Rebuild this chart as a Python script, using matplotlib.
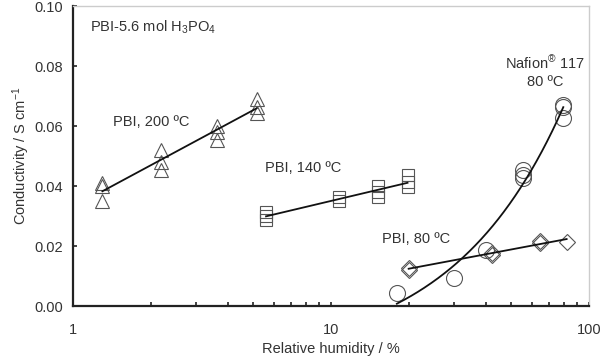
import numpy as np
import matplotlib
matplotlib.use("Agg")
import matplotlib.pyplot as plt
from matplotlib.ticker import LogLocator, FixedLocator, NullFormatter, FuncFormatter

plt.rcParams['font.family'] = ['Liberation Sans', 'DejaVu Sans']
plt.rcParams['mathtext.fontset'] = 'custom'
plt.rcParams['mathtext.rm'] = 'Liberation Sans'
plt.rcParams['mathtext.it'] = 'Liberation Sans:italic'
plt.rcParams['mathtext.bf'] = 'Liberation Sans:bold'

# ---- data ----
rh_200 = [1.3, 1.3, 1.3, 2.2, 2.2, 2.2, 3.6, 3.6, 3.6, 5.15, 5.15, 5.15]
cond_200 = [0.041, 0.040, 0.035, 0.052, 0.048, 0.0455, 0.060, 0.058, 0.0555, 0.069, 0.0665, 0.0645]

rh_140 = [5.6, 5.6, 5.6, 10.7, 10.7, 15.2, 15.2, 15.2, 19.8, 19.8, 19.8]
cond_140 = [0.0314, 0.030, 0.0287, 0.0362, 0.035, 0.040, 0.038, 0.0362, 0.0436, 0.0415, 0.0397]

rh_80 = [20, 20, 42, 42, 64.6, 64.6, 81.9]
cond_80 = [0.0128, 0.0120, 0.0178, 0.0170, 0.0218, 0.0210, 0.0213]

rh_naf = [18, 30, 40, 55.6, 55.6, 55.6, 79.5, 79.5, 79.5]
cond_naf = [0.0042, 0.0092, 0.0187, 0.0453, 0.0437, 0.0427, 0.0670, 0.0662, 0.0628]

x_ticks = [1, 10, 100]
y_ticks = [0.00, 0.02, 0.04, 0.06, 0.08, 0.10]

edge = '#555555'
txt = '#333333'
fs = 10.5

fig = plt.figure(figsize=(6.01, 3.60), dpi=100)
ax = fig.add_axes([73/601, 54/360, 516/601, 300/360])
ax.set_xscale('log')
ax.set_xlim(1, 100)
ax.set_ylim(0, 0.10)

def logfit(x, y):
    x = np.asarray(x, float); y = np.asarray(y, float)
    p = np.polyfit(np.log10(x), y, 1)
    xs = np.array([x.min(), x.max()])
    return xs, np.polyval(p, np.log10(xs))

def linfit(x, y):
    x = np.asarray(x, float); y = np.asarray(y, float)
    p = np.polyfit(x, y, 1)
    xs = np.linspace(x.min(), x.max(), 200)
    return xs, np.polyval(p, xs)

mk = dict(linestyle='none', markerfacecolor='none', markeredgecolor=edge, markeredgewidth=0.8)
ax.plot(rh_200, cond_200, marker='^', markersize=9.5, **mk)
ax.plot(rh_140, cond_140, marker='s', markersize=8.4, **mk)
ax.plot(rh_80, cond_80, marker='D', markersize=8.0, **mk)
ax.plot(rh_naf, cond_naf, marker='o', markersize=11.5, **mk)

for (x, y, f) in [(rh_200, cond_200, logfit), (rh_140, cond_140, logfit),
                  (rh_80, cond_80, logfit), (rh_naf, cond_naf, linfit)]:
    xs, ys = f(x, y)
    ax.plot(xs, ys, color='#111111', lw=1.3)

# axes styling
for s in ['left', 'bottom']:
    ax.spines[s].set_color('#222222'); ax.spines[s].set_linewidth(1.6)
for s in ['top', 'right']:
    ax.spines[s].set_color('#cccccc'); ax.spines[s].set_linewidth(1.0)

ax.xaxis.set_major_locator(FixedLocator(x_ticks))
ax.xaxis.set_minor_locator(LogLocator(base=10, subs=np.arange(2, 10)))
ax.xaxis.set_minor_formatter(NullFormatter())
ax.xaxis.set_major_formatter(FuncFormatter(lambda v, p: '%d' % v))
ax.yaxis.set_major_locator(FixedLocator(y_ticks))
ax.yaxis.set_major_formatter(FuncFormatter(lambda v, p: '%.2f' % v))

ax.tick_params(axis='x', which='major', direction='in', length=3, width=1.2, color='#222222',
               pad=12, labelsize=fs, labelcolor=txt)
ax.tick_params(axis='x', which='minor', direction='in', length=3, width=1.2, color='#222222')
ax.tick_params(axis='y', which='major', direction='in', length=3, width=1.2, color='#222222',
               pad=7, labelsize=fs, labelcolor=txt)
ax.tick_params(top=False, right=False, which='both')

ax.set_xlabel('Relative humidity / %', fontsize=fs, color=txt, labelpad=4)
ax.set_ylabel('Conductivity / S cm$^{-1}$', fontsize=fs, color=txt, labelpad=2)

T = ax.transAxes
ax.text(0.033, 0.93, 'PBI-5.6 mol H$_3$PO$_4$', transform=T, fontsize=fs, color=txt, va='center', ha='left')
ax.text(0.078, 0.614, 'PBI, 200 ºC', transform=T, fontsize=fs, color=txt, va='center', ha='left')
ax.text(0.372, 0.459, 'PBI, 140 ºC', transform=T, fontsize=fs, color=txt, va='center', ha='left')
ax.text(0.598, 0.222, 'PBI, 80 ºC', transform=T, fontsize=fs, color=txt, va='center', ha='left')
ax.text(0.915, 0.811, 'Nafion$^{\\mathrm{®}}$ 117', transform=T, fontsize=fs, color=txt, va='center', ha='center')
ax.text(0.915, 0.748, '80 ºC', transform=T, fontsize=fs, color=txt, va='center', ha='center')

fig.savefig('out.png', dpi=100)
